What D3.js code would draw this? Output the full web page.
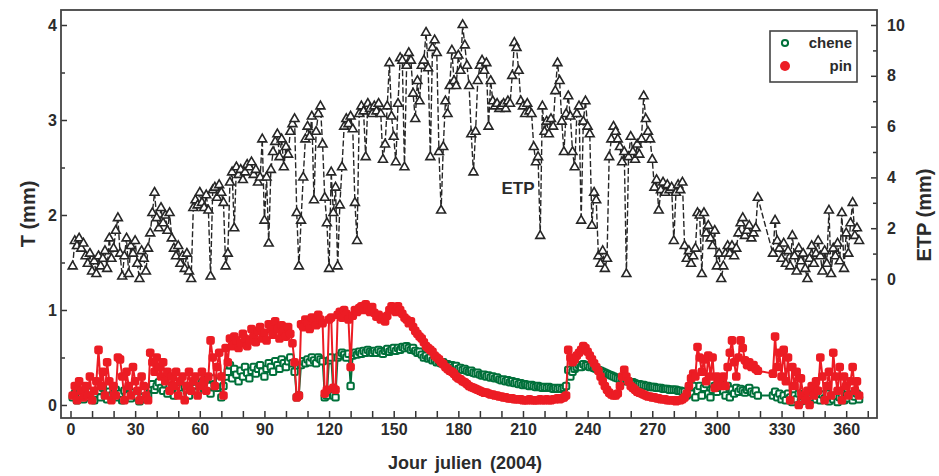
<!DOCTYPE html>
<html><head><meta charset="utf-8">
<script src="https://cdn.jsdelivr.net/npm/d3@7"></script>
<style>
html,body{margin:0;padding:0;background:#fff;}
svg text{font-family:"Liberation Sans",Arial,sans-serif;font-weight:bold;fill:#2b2b2b;}
</style></head>
<body>
<svg id="c" width="939" height="476"></svg>
<script>
// ---- data (day of year 1..366) ----
const etp = [
0.5,1.5,1.3,1.6,1.2,1.4,0.9,0.6,1.0,0.3,
0.7,0.2,0.9,0.5,0.8,1.1,0.4,1.6,0.8,1.2,
1.9,2.4,1.0,0.1,0.9,1.6,0.2,1.3,1.0,1.5,
0.6,0.0,1.1,0.8,0.3,1.2,1.8,2.6,3.4,2.4,
2.0,2.8,2.2,2.5,1.9,2.6,1.6,1.2,0.9,1.3,
0.6,0.9,0.4,1.0,0.3,0.0,2.8,3.1,2.9,3.4,
3.0,2.8,3.3,2.7,0.1,3.5,3.6,3.2,3.7,3.4,
3.0,0.5,1.0,3.8,4.2,2.0,4.4,4.1,4.3,3.9,
4.2,4.5,4.4,4.6,4.1,4.3,3.8,4.0,5.5,2.3,
4.0,1.4,4.3,5.0,5.4,5.7,4.8,5.5,4.4,5.2,
4.9,5.8,6.1,6.3,2.6,0.5,2.3,4.0,5.5,6.0,
5.6,6.4,3.1,5.8,6.5,6.8,5.3,3.2,2.2,0.4,
4.2,2.6,3.6,0.5,2.9,4.4,6.0,6.3,6.1,6.4,
5.9,3.0,1.5,6.5,6.8,6.6,4.8,6.9,6.7,6.5,
6.8,6.6,6.9,6.5,4.7,5.3,6.8,8.5,6.4,5.6,
4.6,6.9,8.7,8.6,4.4,8.4,8.9,8.6,7.3,6.3,
7.8,7.0,8.4,8.6,9.7,8.3,4.8,9.1,9.4,8.9,
5.0,2.7,5.2,7.0,6.5,7.6,9.0,7.8,7.6,8.8,
8.2,10.0,9.2,8.4,7.6,5.7,4.2,5.8,7.8,8.4,
8.6,8.2,8.5,6.0,7.8,7.0,6.8,6.9,6.7,6.8,
6.9,6.7,7.0,6.9,8.0,9.3,9.1,8.2,7.0,6.8,
6.5,6.9,6.6,6.5,5.2,4.6,4.8,1.7,6.8,5.8,
6.2,5.7,6.3,6.0,7.4,8.5,7.8,6.2,5.0,6.5,
7.2,6.4,5.0,4.4,6.5,6.8,2.3,6.2,7.0,6.0,
5.7,2.1,3.4,3.1,0.9,0.6,1.1,0.4,0.8,4.8,
5.5,6.0,5.8,5.5,5.2,4.6,5.0,0.2,4.8,5.6,
5.0,4.7,5.3,4.9,5.5,7.2,6.3,5.8,5.5,4.7,
3.6,3.9,2.7,3.5,3.8,3.4,3.7,3.5,3.6,1.5,
3.4,3.7,3.5,3.8,1.3,0.8,1.1,0.6,0.9,1.2,
2.6,2.5,0.2,2.6,1.8,2.1,1.6,1.3,1.9,0.5,
1.0,0.0,0.5,1.0,1.3,1.0,1.3,0.9,1.2,1.8,
2.2,2.4,1.7,1.9,2.1,1.6,1.8,2.0,3.2,null,
null,null,null,null,null,1.0,2.3,1.5,1.2,0.8,
1.4,0.6,1.1,0.5,1.7,0.9,0.3,1.2,0.7,1.0,
0.4,0.0,0.8,1.3,0.6,1.0,1.5,0.9,0.3,1.1,
0.6,2.7,0.2,1.2,0.9,1.4,0.7,2.6,0.4,1.8,
1.0,2.2,3.0,1.7,2.0,1.5
];
const pin = [
0.1,0.2,0.05,0.25,0.15,0.08,0.2,0.1,0.3,0.05,
0.15,0.25,0.58,0.2,0.35,0.1,0.45,0.25,0.05,0.2,
0.1,0.5,0.48,0.3,0.05,0.35,0.2,0.1,0.4,0.25,
0.15,0.05,0.3,0.2,0.1,0.05,0.55,0.45,0.35,0.5,
0.4,0.3,0.45,0.25,0.35,0.15,0.3,0.2,0.35,0.1,
0.25,0.3,0.05,0.2,0.35,0.15,0.25,0.3,0.1,0.2,
0.35,0.25,0.15,0.3,0.68,0.5,0.2,0.4,0.55,0.3,
0.1,0.6,0.45,0.7,0.62,0.72,0.68,0.6,0.65,0.75,
0.7,0.62,0.68,0.8,0.72,0.66,0.78,0.82,0.7,0.76,
0.68,0.85,0.8,0.74,0.88,0.8,0.7,0.84,0.78,0.72,
0.82,0.75,0.65,0.45,0.08,0.1,0.85,0.82,0.9,0.86,
0.8,0.92,0.88,0.84,0.95,0.9,0.86,0.12,0.16,0.9,
0.92,0.18,0.16,0.95,0.98,0.92,1.0,0.96,0.9,0.4,
0.94,1.0,0.98,1.02,1.04,1.0,1.06,1.02,0.98,1.03,
0.97,0.93,0.95,0.9,0.92,0.88,0.94,1.0,1.04,1.02,
0.98,1.04,1.0,0.96,0.92,0.9,0.86,0.88,0.82,0.78,
0.75,0.72,0.7,0.66,0.62,0.6,0.58,0.56,0.52,0.5,
0.48,0.45,0.43,0.4,0.38,0.36,0.35,0.33,0.3,0.28,
0.27,0.25,0.24,0.22,0.2,0.19,0.18,0.17,0.16,0.15,
0.14,0.13,0.13,0.12,0.11,0.11,0.1,0.1,0.09,0.09,
0.08,0.08,0.07,0.07,0.07,0.06,0.06,0.06,0.06,0.05,
0.05,0.05,0.06,0.05,0.05,0.05,0.05,0.06,0.05,0.05,
0.06,0.05,0.05,0.06,0.06,0.07,0.06,0.07,0.08,0.1,
0.58,0.5,0.45,0.48,0.52,0.55,0.58,0.62,0.6,0.56,
0.52,0.48,0.44,0.4,0.36,0.3,0.25,0.2,0.16,0.13,
0.11,0.1,0.1,0.12,0.2,0.3,0.37,0.3,0.25,0.2,
0.18,0.16,0.14,0.13,0.12,0.11,0.1,0.09,0.09,0.08,
0.08,0.07,0.07,0.06,0.06,0.06,0.05,0.05,0.05,0.05,
0.04,0.05,0.05,0.06,0.08,0.12,0.2,0.28,0.33,0.3,
0.61,0.5,0.35,0.48,0.25,0.52,0.3,0.5,0.18,0.3,
0.25,0.2,0.3,0.2,0.4,0.55,0.68,0.45,0.3,0.5,
0.68,0.6,0.47,0.42,0.45,0.4,0.42,0.38,0.36,null,
null,null,null,null,null,0.33,0.72,0.4,0.55,0.3,
0.58,0.25,0.5,0.05,0.4,0.2,0.35,0.0,0.28,0.1,
0.05,0.15,0.0,0.2,0.1,0.25,0.15,0.5,0.3,0.05,
0.2,0.35,0.1,0.55,0.3,0.15,0.4,0.05,0.3,0.2,
0.1,0.25,0.4,0.15,0.25,0.1
];
const chene = [
0.08,0.12,0.05,0.15,0.1,0.06,0.12,0.08,0.14,0.1,
0.05,0.12,0.15,0.08,0.18,0.1,0.06,0.14,0.1,0.12,
0.16,0.08,0.12,0.05,0.15,0.1,0.18,0.07,0.13,0.1,
0.08,0.04,0.12,0.15,0.06,0.1,0.18,0.22,0.16,0.2,
0.24,0.18,0.15,0.22,0.12,0.2,0.16,0.1,0.19,0.14,
0.18,0.12,0.2,0.15,0.1,0.16,0.22,0.18,0.14,0.2,
0.24,0.18,0.26,0.2,0.12,0.28,0.22,0.18,0.25,0.08,
0.2,0.3,0.35,0.42,0.28,0.38,0.32,0.25,0.36,0.3,
0.4,0.34,0.28,0.36,0.4,0.33,0.38,0.42,0.35,0.3,
0.38,0.44,0.4,0.35,0.46,0.42,0.38,0.48,0.44,0.4,
0.46,0.5,0.44,0.35,0.08,0.1,0.42,0.46,0.44,0.48,
0.45,0.5,0.47,0.44,0.5,0.48,0.46,0.08,0.1,0.47,
0.5,0.1,0.08,0.5,0.52,0.55,0.53,0.5,0.54,0.2,
0.52,0.55,0.53,0.56,0.54,0.57,0.55,0.58,0.56,0.55,
0.57,0.55,0.58,0.56,0.54,0.57,0.59,0.56,0.58,0.6,
0.57,0.6,0.58,0.61,0.6,0.62,0.6,0.58,0.6,0.57,
0.55,0.56,0.53,0.5,0.52,0.49,0.5,0.47,0.48,0.45,
0.46,0.44,0.45,0.42,0.43,0.41,0.42,0.4,0.41,0.38,
0.39,0.37,0.38,0.36,0.35,0.36,0.34,0.33,0.34,0.32,
0.31,0.32,0.3,0.31,0.29,0.3,0.28,0.29,0.27,0.26,
0.27,0.25,0.26,0.24,0.25,0.23,0.24,0.22,0.23,0.21,
0.22,0.21,0.2,0.21,0.2,0.19,0.2,0.19,0.18,0.19,
0.18,0.19,0.18,0.17,0.18,0.17,0.18,0.17,0.18,0.2,
0.37,0.3,0.35,0.38,0.4,0.42,0.4,0.43,0.41,0.42,
0.4,0.41,0.39,0.38,0.37,0.36,0.35,0.34,0.33,0.32,
0.31,0.3,0.29,0.28,0.27,0.27,0.26,0.25,0.25,0.24,
0.24,0.23,0.22,0.22,0.21,0.21,0.2,0.2,0.19,0.19,
0.19,0.18,0.18,0.18,0.17,0.17,0.17,0.16,0.16,0.16,
0.16,0.15,0.15,0.14,0.14,0.1,0.18,0.12,0.2,0.08,
0.15,0.2,0.1,0.18,0.22,0.12,0.08,0.16,0.2,0.14,
0.18,0.22,0.15,0.1,0.2,0.08,0.16,0.12,0.18,0.14,
0.17,0.15,0.13,0.16,0.18,0.14,0.12,0.15,0.1,null,
null,null,null,null,null,0.1,0.14,0.08,0.12,0.06,
0.1,0.05,0.12,0.08,0.03,0.1,0.06,0.12,0.04,0.09,
0.05,0.1,0.04,0.08,0.12,0.06,0.1,0.05,0.11,0.07,
0.12,0.04,0.09,0.06,0.1,0.03,0.08,0.12,0.05,0.1,
0.07,0.11,0.05,0.09,0.12,0.06
];
const days = d3.range(1, 367);
const xTickValues = d3.range(0, 371, 10);
const xTickLabels = [0, 30, 60, 90, 120, 150, 180, 210, 240, 270, 300, 330, 360];
const tTickLabels = [0, 1, 2, 3, 4];
const tMinorTicks = [0.5, 1.5, 2.5, 3.5];
const etpTickLabels = [0, 2, 4, 6, 8, 10];
const etpMinorTicks = [1, 3, 5, 7, 9];
const seriesNames = ["chene", "pin"];

// ---- layout ----
const L = 61, R = 877, T = 10, B = 418;
const x = d3.scaleLinear().domain([-4.41, 374.3]).range([L, R]);
const yT = d3.scaleLinear().domain([-0.137, 4.158]).range([B, T]);
const yE = d3.scaleLinear().domain([0, 10]).range([279, 25]);

const col = {etp: "#262626", chene: "#00703a", pin: "#ec1c24"};
const svg = d3.select("#c");

const mk = arr => days.map((d, i) => ({day: d, v: arr[i]})).filter(p => p.v !== null);
const dE = mk(etp), dC = mk(chene), dP = mk(pin);

// axes
const axB = d3.axisBottom(x).tickValues(xTickValues).tickSize(-7).tickPadding(6)
  .tickFormat(d => xTickLabels.includes(d) ? d : "");
svg.append("g").attr("transform", `translate(0,${B})`).call(axB);

svg.append("g").attr("transform", `translate(${L},0)`)
  .call(d3.axisLeft(yT).tickValues(tTickLabels).tickSize(-6).tickPadding(4).tickFormat(d3.format("d")));
svg.append("g").attr("transform", `translate(${L},0)`)
  .call(d3.axisLeft(yT).tickValues(tMinorTicks).tickSize(-4).tickFormat(""));

svg.append("g").attr("transform", `translate(${R},0)`)
  .call(d3.axisRight(yE).tickValues(etpTickLabels).tickSize(-6).tickPadding(10).tickFormat(d3.format("d")));
svg.append("g").attr("transform", `translate(${R},0)`)
  .call(d3.axisRight(yE).tickValues(etpMinorTicks).tickSize(-4).tickFormat(""));

svg.selectAll(".domain").remove();
svg.selectAll(".tick line").attr("stroke", "#333").attr("stroke-width", 1.5);
svg.selectAll(".tick text").style("font-size", "16px").attr("fill", "#2b2b2b")
  .style("font-family", '"Liberation Sans",Arial,sans-serif').style("font-weight", "bold");

// frame
svg.append("rect").attr("x", L).attr("y", T).attr("width", R - L).attr("height", B - T)
  .attr("fill", "none").attr("stroke", "#444").attr("stroke-width", 1.8);

// ETP series
svg.append("path").datum(dE)
  .attr("d", d3.line().x(d => x(d.day)).y(d => yE(d.v)))
  .attr("fill", "none").attr("stroke", col.etp).attr("stroke-width", 1.4).attr("stroke-dasharray", "6,2.5");
const tri = d3.symbol().type(d3.symbolTriangle).size(34);
svg.append("g").selectAll("path").data(dE).join("path")
  .attr("d", tri).attr("transform", d => `translate(${x(d.day)},${yE(d.v)})`)
  .attr("fill", "#fff").attr("stroke", col.etp).attr("stroke-width", 1.6);

// chene series
svg.append("path").datum(dC)
  .attr("d", d3.line().x(d => x(d.day)).y(d => yT(d.v)))
  .attr("fill", "none").attr("stroke", col.chene).attr("stroke-width", 1.8);
svg.append("g").selectAll("rect").data(dC).join("rect")
  .attr("x", d => x(d.day) - 3.2).attr("y", d => yT(d.v) - 3.2).attr("width", 6.4).attr("height", 6.4)
  .attr("rx", 1.5).attr("fill", "#fff").attr("stroke", col.chene).attr("stroke-width", 2);

// pin series
svg.append("path").datum(dP)
  .attr("d", d3.line().x(d => x(d.day)).y(d => yT(d.v)))
  .attr("fill", "none").attr("stroke", col.pin).attr("stroke-width", 2);
svg.append("g").selectAll("rect").data(dP).join("rect")
  .attr("x", d => x(d.day) - 4.3).attr("y", d => yT(d.v) - 4.3).attr("width", 8.6).attr("height", 8.6)
  .attr("rx", 2.8).attr("fill", col.pin);

// in-plot label
svg.append("text").attr("x", 518).attr("y", 194).attr("text-anchor", "middle")
  .style("font-size", "17px").text("ETP");

// axis titles
svg.append("text").attr("transform", "translate(35,214) rotate(-90)").attr("text-anchor", "middle")
  .style("font-size", "20px").text("T (mm)");
svg.append("text").attr("transform", "translate(931,215) rotate(-90)").attr("text-anchor", "middle")
  .style("font-size", "20px").text("ETP (mm)");
svg.append("text").attr("x", 465).attr("y", 469).attr("text-anchor", "middle")
  .style("font-size", "18px").style("word-spacing", "3px").text("Jour julien  (2004)");

// legend
const lg = svg.append("g");
lg.append("rect").attr("x", 770).attr("y", 31).attr("width", 87).attr("height", 51)
  .attr("fill", "#fff").attr("stroke", "#444").attr("stroke-width", 1.6);
seriesNames.forEach((name, i) => {
  const cy = 43 + i * 23;
  if (name === "chene") {
    lg.append("path").attr("d", d3.symbol().type(d3.symbolCircle).size(30)())
      .attr("transform", `translate(785,${cy})`).attr("fill", "#fff")
      .attr("stroke", col.chene).attr("stroke-width", 2);
  } else {
    lg.append("circle").attr("cx", 785).attr("cy", cy).attr("r", 5).attr("fill", col.pin);
  }
  lg.append("text").attr("x", 852).attr("y", cy + 5).attr("text-anchor", "end")
    .style("font-size", "15px").text(name);
});
</script>
</body></html>
